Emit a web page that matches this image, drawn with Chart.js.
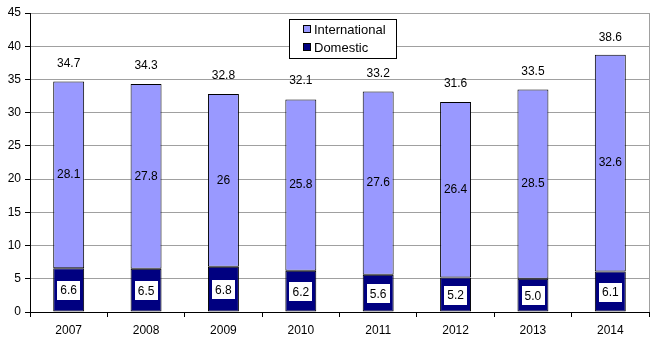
<!DOCTYPE html>
<html>
<head>
<meta charset="utf-8">
<script src="https://cdn.jsdelivr.net/npm/chart.js@4.4.1/dist/chart.umd.min.js"></script>
<style>
  html, body { margin: 0; padding: 0; background: #fff; }
  #wrap { width: 659px; height: 345px; position: relative; }
</style>
</head>
<body>
<div id="wrap"><canvas id="c" width="659" height="345"></canvas></div>
<script>
const years = ['2007', '2008', '2009', '2010', '2011', '2012', '2013', '2014'];
const domestic = [6.6, 6.5, 6.8, 6.2, 5.6, 5.2, 5.0, 6.1];
const international = [28.1, 27.8, 26, 25.8, 27.6, 26.4, 28.5, 32.6];
const totals = [34.7, 34.3, 32.8, 32.1, 33.2, 31.6, 33.5, 38.6];
const domesticLabels = ['6.6', '6.5', '6.8', '6.2', '5.6', '5.2', '5.0', '6.1'];
const internationalLabels = ['28.1', '27.8', '26', '25.8', '27.6', '26.4', '28.5', '32.6'];
const totalLabels = ['34.7', '34.3', '32.8', '32.1', '33.2', '31.6', '33.5', '38.6'];

const FONT = 'Liberation Sans, Arial, sans-serif';

const labelsPlugin = {
  id: 'valueLabels',
  afterDatasetsDraw(chart) {
    const ctx = chart.ctx;
    const area = chart.chartArea;
    const y = chart.scales.y;
    ctx.save();
    // right border of the plot area
    ctx.strokeStyle = '#a0a0a0';
    ctx.lineWidth = 1;
    ctx.beginPath();
    ctx.moveTo(Math.round(area.right) + 0.5, area.top);
    ctx.lineTo(Math.round(area.right) + 0.5, area.bottom);
    ctx.stroke();

    ctx.font = '12px ' + FONT;
    ctx.textAlign = 'center';
    ctx.textBaseline = 'middle';
    const domMeta = chart.getDatasetMeta(1);
    const intMeta = chart.getDatasetMeta(0);
    years.forEach((yr, i) => {
      const bx = domMeta.data[i].x;
      // domestic value in a white box
      const dy = (y.getPixelForValue(0) + y.getPixelForValue(domestic[i])) / 2;
      const tw = ctx.measureText(domesticLabels[i]).width;
      ctx.fillStyle = '#fff';
      ctx.fillRect(Math.round(bx - tw / 2 - 3), Math.round(dy - 9), Math.round(tw + 6), 19);
      ctx.fillStyle = '#000';
      ctx.fillText(domesticLabels[i], bx, dy + 1);
      // international value in the middle of its segment
      const iy = (y.getPixelForValue(domestic[i]) + y.getPixelForValue(domestic[i] + international[i])) / 2;
      ctx.fillText(internationalLabels[i], intMeta.data[i].x, iy);
      // total above the bar
      ctx.fillText(totalLabels[i], bx, y.getPixelForValue(totals[i]) - 18);
    });

    // legend box
    const lx = 289, ly = 19, lw = 107, lh = 39;
    ctx.fillStyle = '#fff';
    ctx.fillRect(lx, ly, lw, lh);
    ctx.strokeStyle = '#000';
    ctx.strokeRect(lx + 0.5, ly + 0.5, lw, lh);
    const items = [
      { text: 'International', color: '#9999ff', y: ly + 10 },
      { text: 'Domestic', color: '#000080', y: ly + 28 }
    ];
    ctx.textAlign = 'left';
    ctx.font = '13px ' + FONT;
    items.forEach(it => {
      ctx.fillStyle = it.color;
      ctx.fillRect(lx + 15, it.y - 3, 6, 6);
      ctx.strokeStyle = '#000';
      ctx.strokeRect(lx + 14.5, it.y - 3.5, 7, 7);
      ctx.fillStyle = '#000';
      ctx.fillText(it.text, lx + 25, it.y + 1);
    });
    ctx.restore();
  }
};

new Chart(document.getElementById('c'), {
  type: 'bar',
  data: {
    labels: years,
    datasets: [
      {
        label: 'International',
        data: international,
        backgroundColor: '#9999ff',
        borderColor: '#000',
        borderWidth: 1,
        borderSkipped: false,
        stack: 's',
        order: 1
      },
      {
        label: 'Domestic',
        data: domestic,
        backgroundColor: '#000080',
        borderColor: '#000',
        borderWidth: 1,
        borderSkipped: false,
        stack: 's',
        order: 0
      }
    ]
  },
  options: {
    responsive: false,
    animation: false,
    devicePixelRatio: 1,
    layout: { padding: { left: 0, top: 13, right: 10, bottom: 0 } },
    datasets: { bar: { barPercentage: 0.4, categoryPercentage: 1 } },
    plugins: { legend: { display: false }, tooltip: { enabled: false } },
    scales: {
      x: {
        stacked: true,
        grid: { offset: true, drawOnChartArea: false, tickLength: 5, tickColor: '#000' },
        border: { color: '#000' },
        ticks: { color: '#000', font: { family: FONT, size: 12 }, padding: 6 },
        afterFit(s) { s.height = 33; }
      },
      y: {
        stacked: true,
        min: 0,
        max: 45,
        ticks: { stepSize: 5, color: '#000', font: { family: FONT, size: 12 }, padding: 4 },
        grid: { color: '#a0a0a0', tickLength: 5, tickColor: '#000' },
        border: { color: '#000' },
        afterFit(s) { s.width = 30; }
      }
    }
  },
  plugins: [labelsPlugin]
});
</script>
</body>
</html>
